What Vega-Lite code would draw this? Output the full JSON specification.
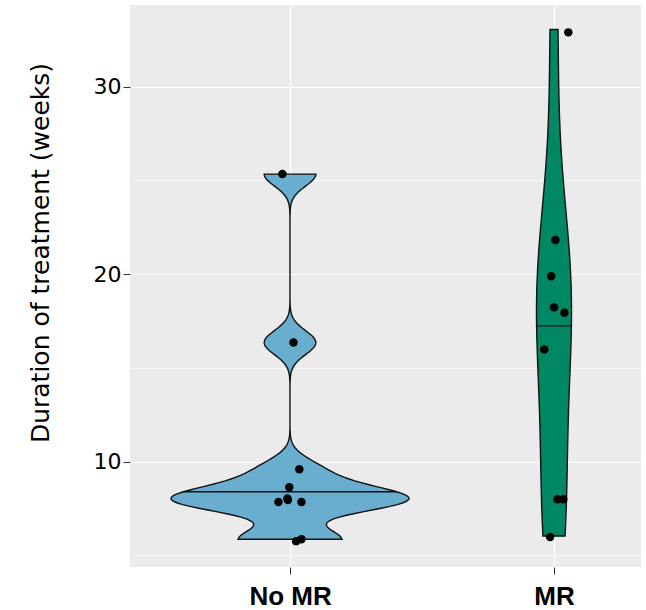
{
  "$schema": "https://vega.github.io/schema/vega-lite/v6.json",
  "width": 511,
  "height": 562,
  "autosize": {"type": "none"},
  "padding": {"left": 130, "top": 5, "right": 5, "bottom": 43},
  "config": {
    "view": {"fill": "#EBEBEB", "stroke": null},
    "axisY": {
      "titleFont": "DejaVu Sans", "titleFontSize": 25, "titleFontWeight": "normal", "titleColor": "#000000",
      "titleAngle": -90, "titleX": -82, "titleY": 247.5, "titleAlign": "center", "titleBaseline": "alphabetic",
      "labelFont": "DejaVu Sans", "labelFontSize": 22, "labelColor": "#000000", "labelPadding": 2,
      "tickSize": 7, "tickColor": "#333333",
      "domain": false, "grid": true, "gridColor": "#FFFFFF"
    }
  },
  "data": {"values": [
    {"group": "No MR", "weeks": 25.34, "jitter": -0.029},
    {"group": "No MR", "weeks": 16.35, "jitter": 0.013},
    {"group": "No MR", "weeks": 9.59, "jitter": 0.035},
    {"group": "No MR", "weeks": 8.63, "jitter": -0.003},
    {"group": "No MR", "weeks": 8.03, "jitter": -0.010},
    {"group": "No MR", "weeks": 7.95, "jitter": -0.008},
    {"group": "No MR", "weeks": 7.85, "jitter": -0.044},
    {"group": "No MR", "weeks": 7.85, "jitter": 0.043},
    {"group": "No MR", "weeks": 5.76, "jitter": 0.023},
    {"group": "No MR", "weeks": 5.86, "jitter": 0.043},
    {"group": "MR", "weeks": 32.9, "jitter": 0.054},
    {"group": "MR", "weeks": 21.82, "jitter": 0.005},
    {"group": "MR", "weeks": 19.89, "jitter": -0.011},
    {"group": "MR", "weeks": 18.24, "jitter": 0.0},
    {"group": "MR", "weeks": 17.94, "jitter": 0.039},
    {"group": "MR", "weeks": 15.98, "jitter": -0.037},
    {"group": "MR", "weeks": 8.0, "jitter": 0.013},
    {"group": "MR", "weeks": 8.0, "jitter": 0.035},
    {"group": "MR", "weeks": 5.98, "jitter": -0.015}
  ]},
  "layer": [
    {
      "mark": {"type": "circle", "size": 72, "color": "#000000", "opacity": 0},
      "encoding": {
        "y": {
          "field": "weeks", "type": "quantitative",
          "scale": {"domain": [4.38, 34.36], "nice": false, "zero": false},
          "axis": {
            "values": [5, 10, 15, 20, 25, 30],
            "title": "Duration of treatment (weeks)",
            "labelExpr": "datum.value % 10 === 0 ? datum.label : ''",
            "tickOpacity": {"condition": {"test": "datum.value % 10 === 0", "value": 1}, "value": 0},
            "gridWidth": {"condition": {"test": "datum.value % 10 === 0", "value": 1.2}, "value": 0.6}
          }
        },
        "x": {
          "field": "group", "type": "nominal",
          "scale": {"type": "point", "domain": ["No MR", "MR"], "padding": 0.4678, "align": 0.648},
          "axis": {
            "orient": "bottom",
            "title": null, "labelAngle": 0,
            "labelFont": "Liberation Sans", "labelFontWeight": "bold", "labelFontSize": 26, "labelColor": "#000000", "labelPadding": 9,
            "tickSize": 7, "tickColor": "#333333", "domain": false,
            "grid": true, "gridColor": "#FFFFFF", "gridWidth": 1.4
          }
        }
      }
    },
    {
      "transform": [
        {"filter": "datum.group === 'No MR'"},
        {"density": "weeks", "bandwidth": 0.636, "extent": [5.86, 25.34], "steps": 200, "as": ["value", "density"]},
        {"stack": "density", "groupby": ["value"], "offset": "center", "as": ["x0", "x1"]}
      ],
      "layer": [
        {
          "mark": {"type": "area", "orient": "horizontal", "fill": "#69ADCF", "stroke": "#111111", "strokeWidth": 1.4},
          "encoding": {
            "y": {"field": "value", "type": "quantitative", "scale": {"domain": [4.38, 34.36], "nice": false, "zero": false},
              "axis": {
                "values": [5, 10, 15, 20, 25, 30],
                "title": "Duration of treatment (weeks)",
                "labelExpr": "datum.value % 10 === 0 ? datum.label : ''",
                "tickOpacity": {"condition": {"test": "datum.value % 10 === 0", "value": 1}, "value": 0},
                "gridWidth": {"condition": {"test": "datum.value % 10 === 0", "value": 1.2}, "value": 0.6}
              }},
            "x": {"field": "x0", "type": "quantitative", "stack": null, "scale": {"range": [41, 279], "zero": false, "nice": false}, "axis": null},
            "x2": {"field": "x1"}
          }
        },
        {
          "transform": [{"filter": "datum.value >= 8.35 && datum.value < 8.44"}],
          "mark": {"type": "rule", "color": "#111111", "strokeWidth": 1.4},
          "encoding": {
            "y": {"field": "value", "type": "quantitative", "scale": {"domain": [4.38, 34.36], "nice": false, "zero": false},
              "axis": {
                "values": [5, 10, 15, 20, 25, 30],
                "title": "Duration of treatment (weeks)",
                "labelExpr": "datum.value % 10 === 0 ? datum.label : ''",
                "tickOpacity": {"condition": {"test": "datum.value % 10 === 0", "value": 1}, "value": 0},
                "gridWidth": {"condition": {"test": "datum.value % 10 === 0", "value": 1.2}, "value": 0.6}
              }},
            "x": {"field": "x0", "type": "quantitative", "stack": null},
            "x2": {"field": "x1"}
          }
        }
      ]
    },
    {
      "transform": [
        {"filter": "datum.group === 'MR'"},
        {"density": "weeks", "bandwidth": 4.9, "extent": [6.03, 33.05], "steps": 200, "as": ["value", "density"]},
        {"stack": "density", "groupby": ["value"], "offset": "center", "as": ["x0", "x1"]}
      ],
      "layer": [
        {
          "mark": {"type": "area", "orient": "horizontal", "fill": "#008763", "stroke": "#111111", "strokeWidth": 1.4},
          "encoding": {
            "y": {"field": "value", "type": "quantitative", "scale": {"domain": [4.38, 34.36], "nice": false, "zero": false},
              "axis": {
                "values": [5, 10, 15, 20, 25, 30],
                "title": "Duration of treatment (weeks)",
                "labelExpr": "datum.value % 10 === 0 ? datum.label : ''",
                "tickOpacity": {"condition": {"test": "datum.value % 10 === 0", "value": 1}, "value": 0},
                "gridWidth": {"condition": {"test": "datum.value % 10 === 0", "value": 1.2}, "value": 0.6}
              }},
            "x": {"field": "x0", "type": "quantitative", "stack": null, "scale": {"range": [406.5, 441.5], "zero": false, "nice": false}, "axis": null},
            "x2": {"field": "x1"}
          }
        },
        {
          "transform": [{"filter": "datum.value >= 17.2 && datum.value < 17.3"}],
          "mark": {"type": "rule", "color": "#111111", "strokeWidth": 1.4},
          "encoding": {
            "y": {"field": "value", "type": "quantitative", "scale": {"domain": [4.38, 34.36], "nice": false, "zero": false},
              "axis": {
                "values": [5, 10, 15, 20, 25, 30],
                "title": "Duration of treatment (weeks)",
                "labelExpr": "datum.value % 10 === 0 ? datum.label : ''",
                "tickOpacity": {"condition": {"test": "datum.value % 10 === 0", "value": 1}, "value": 0},
                "gridWidth": {"condition": {"test": "datum.value % 10 === 0", "value": 1.2}, "value": 0.6}
              }},
            "x": {"field": "x0", "type": "quantitative", "stack": null},
            "x2": {"field": "x1"}
          }
        }
      ]
    },
    {
      "mark": {"type": "circle", "size": 72, "color": "#000000", "opacity": 1},
      "encoding": {
        "y": {
          "field": "weeks", "type": "quantitative",
          "scale": {"domain": [4.38, 34.36], "nice": false, "zero": false},
          "axis": {
            "values": [5, 10, 15, 20, 25, 30],
            "title": "Duration of treatment (weeks)",
            "labelExpr": "datum.value % 10 === 0 ? datum.label : ''",
            "tickOpacity": {"condition": {"test": "datum.value % 10 === 0", "value": 1}, "value": 0},
            "gridWidth": {"condition": {"test": "datum.value % 10 === 0", "value": 1.2}, "value": 0.6}
          }
        },
        "x": {
          "field": "group", "type": "nominal",
          "scale": {"type": "point", "domain": ["No MR", "MR"], "padding": 0.4678, "align": 0.648},
          "axis": null
        },
        "xOffset": {"field": "jitter", "type": "quantitative", "scale": {"domain": [-1, 1], "range": [-264, 264]}}
      }
    }
  ],
  "resolve": {"scale": {"x": "independent"}}
}
